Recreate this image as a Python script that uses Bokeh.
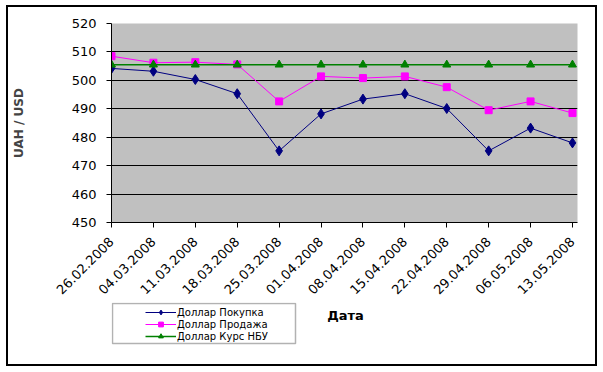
import math
from bokeh.plotting import figure
from bokeh.layouts import column
from bokeh.models import Range1d, FixedTicker, Legend, LegendItem, BoxAnnotation, Label
from bokeh.embed import file_html
from bokeh.resources import INLINE

dates = ["26.02.2008", "04.03.2008", "11.03.2008", "18.03.2008", "25.03.2008",
         "01.04.2008", "08.04.2008", "15.04.2008", "22.04.2008", "29.04.2008",
         "06.05.2008", "13.05.2008"]
buy = [504.2, 503.2, 500.3, 495.3, 475.2, 488.2, 493.4, 495.3, 490.1, 475.2, 483.2, 478.0]
sell = [508.5, 506.2, 506.4, 505.6, 492.6, 501.4, 500.8, 501.4, 497.6, 489.5, 492.6, 488.5]
nbu = [505.5] * 12
y_ticks = [450, 460, 470, 480, 490, 500, 510, 520]
grid_ticks = [460, 470, 480, 490, 500, 510]
series_names = ["Доллар Покупка", "Доллар Продажа", "Доллар Курс НБУ"]
x_title = "Дата"
y_title = "UAH / USD"

x = list(range(len(dates)))

FONT = "DejaVu Sans"
C_BUY, C_SELL, C_NBU = "#000080", "#FF00FF", "#008000"

W = 587
H_MAIN = 295
H_BOT = 62
LEFT, RIGHT = 103, 18

p = figure(width=W, height=H_MAIN, output_backend="svg", toolbar_location=None,
           x_range=Range1d(0, 11.12), y_range=Range1d(450, 520),
           min_border_left=LEFT, min_border_right=RIGHT, min_border_top=16, min_border_bottom=80)
p.background_fill_color = "#C0C0C0"
p.border_fill_color = "white"
p.outline_line_color = None

p.xgrid.visible = False
p.ygrid.ticker = FixedTicker(ticks=grid_ticks)
p.ygrid.grid_line_color = "black"
p.ygrid.grid_line_width = 1

ya = p.yaxis[0]
ya.ticker = FixedTicker(ticks=y_ticks)
ya.axis_line_color = "black"
ya.major_tick_line_color = "black"
ya.major_tick_out = 5
ya.major_tick_in = 0
ya.minor_tick_line_color = None
ya.major_label_standoff = 10
ya.major_label_text_font = FONT
ya.major_label_text_font_size = "13px"
ya.major_label_text_color = "black"
ya.axis_label = y_title
ya.axis_label_text_font = FONT
ya.axis_label_text_font_size = "12px"
ya.axis_label_text_font_style = "bold"
ya.axis_label_standoff = 43

xa = p.xaxis[0]
xa.ticker = FixedTicker(ticks=x)
xa.major_label_overrides = {i: d for i, d in enumerate(dates)}
xa.major_label_orientation = math.pi / 4
xa.axis_line_color = "black"
xa.major_tick_line_color = "black"
xa.major_tick_out = 5
xa.major_tick_in = 0
xa.minor_tick_line_color = None
xa.major_label_standoff = 12
xa.major_label_text_font = FONT
xa.major_label_text_font_size = "13px"
xa.major_label_text_color = "black"

p.line(x, buy, line_color=C_BUY, line_width=1)
p.scatter(x, buy, marker="diamond", size=10, fill_color=C_BUY, line_color=C_BUY)
p.line(x, sell, line_color=C_SELL, line_width=1)
p.scatter(x, sell, marker="square", size=7, fill_color=C_SELL, line_color=C_SELL)
p.line(x, nbu, line_color=C_NBU, line_width=1.5)
p.scatter(x, nbu, marker="triangle", size=8, fill_color=C_NBU, line_color=C_NBU)

# bottom strip: legend and x-axis title (series repeated here only to feed the legend;
# they fall outside this strip's ranges and are not visible)
p2 = figure(width=W, height=H_BOT, output_backend="svg", toolbar_location=None,
            x_range=Range1d(100, 101), y_range=Range1d(0, 1),
            x_axis_type=None, y_axis_type=None,
            min_border_left=LEFT, min_border_right=RIGHT, min_border_top=0, min_border_bottom=0)
p2.outline_line_color = None
p2.background_fill_color = "white"
p2.border_fill_color = "white"

k1 = [p2.line(x, buy, line_color=C_BUY, line_width=1),
      p2.scatter(x, buy, marker="diamond", size=10, fill_color=C_BUY, line_color=C_BUY)]
k2 = [p2.line(x, sell, line_color=C_SELL, line_width=1),
      p2.scatter(x, sell, marker="square", size=7, fill_color=C_SELL, line_color=C_SELL)]
k3 = [p2.line(x, nbu, line_color=C_NBU, line_width=1.5),
      p2.scatter(x, nbu, marker="triangle", size=8, fill_color=C_NBU, line_color=C_NBU)]

box = BoxAnnotation(left=1, right=184, top=61, bottom=21,
                    left_units="screen", right_units="screen",
                    top_units="screen", bottom_units="screen",
                    fill_color="white", fill_alpha=1,
                    line_color="black", line_width=1.5)
p2.add_layout(box)

legend = Legend(items=[
    LegendItem(label=series_names[0], renderers=k1),
    LegendItem(label=series_names[1], renderers=k2),
    LegendItem(label=series_names[2], renderers=k3),
], location=(34, 22))
legend.border_line_color = None
legend.background_fill_alpha = 0
legend.padding = 2
legend.spacing = 0
legend.margin = 0
legend.glyph_width = 31
legend.glyph_height = 12
legend.label_height = 12
legend.label_standoff = 1
legend.label_text_font = FONT
legend.label_text_font_size = "10px"
legend.label_text_color = "black"
p2.add_layout(legend, "center")

p2.add_layout(Label(x=234, y=49, x_units="screen", y_units="screen", text=x_title,
                    text_align="center", text_baseline="middle",
                    text_font=FONT, text_font_size="13px", text_font_style="bold",
                    text_color="black"))

layout = column(p, p2, spacing=0,
                styles={"border": "2px solid black", "margin-left": "6px", "margin-top": "5px"})

open("out.html", "w").write(file_html(layout, INLINE))
